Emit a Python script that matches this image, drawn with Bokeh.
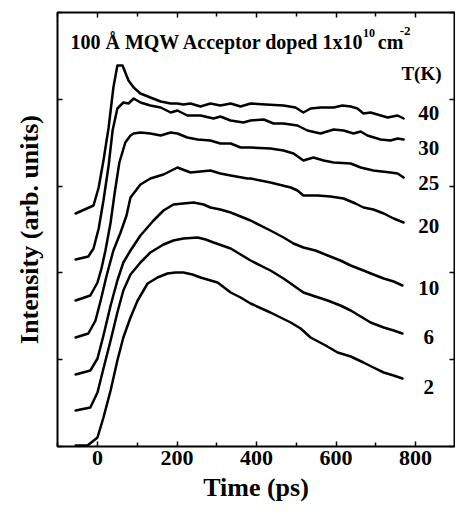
from bokeh.plotting import figure
from bokeh.models import FixedTicker, LinearAxis, Range1d, ColumnDataSource
from bokeh.core.properties import value
from bokeh.embed import file_html
from bokeh.resources import INLINE

FONT = "Liberation Serif"

# Time axis (ps)
x_ticks = [0, 200, 400, 600, 800]
x_minor = [-100, 100, 300, 500, 700]
# intensity axis (arb. units), unlabeled ticks
y_ticks = [0, 86.8, 173.6, 260.4, 347.2, 434]

# ---- curves: time (ps) and intensity (arb. units) ----
t_40 = [-55, -10, 3, 15, 28, 40, 50, 63, 78, 91, 108, 133, 159, 184, 201, 216, 234, 259, 284, 309,
        335, 360, 385, 423, 468, 498, 518, 536, 561, 594, 616, 637, 654, 669, 687, 704, 730, 755, 770]
i_40 = [233, 241, 259, 286, 319, 359, 381, 381, 366, 359, 353, 349, 345, 343, 343, 342, 343, 340, 343, 341,
        343, 340, 343, 342, 341, 339, 334, 338, 339, 339, 341, 340, 338, 333, 334, 332, 329, 331, 328]

t_30 = [-55, -23, -10, 3, 15, 28, 38, 50, 65, 78, 91, 108, 133, 159, 184, 201, 226, 259, 292, 309,
        335, 367, 385, 418, 443, 468, 503, 528, 561, 594, 619, 644, 662, 679, 712, 737, 755, 770]
i_30 = [187, 190, 198, 218, 246, 281, 316, 338, 344, 343, 348, 344, 341, 339, 334, 336, 331, 331, 328, 330,
        326, 324, 326, 327, 323, 323, 321, 316, 313, 317, 316, 313, 315, 311, 307, 306, 308, 307]

t_25 = [-55, -18, 0, 10, 20, 33, 43, 55, 70, 83, 91, 108, 133, 159, 184, 201, 226, 252, 284, 309,
        335, 360, 385, 435, 468, 493, 518, 543, 569, 594, 637, 662, 694, 737, 755, 770]
i_25 = [146, 151, 164, 178, 196, 224, 253, 284, 304, 311, 313, 314, 313, 311, 314, 313, 309, 307, 306, 303,
        303, 299, 299, 298, 296, 293, 286, 289, 286, 284, 283, 279, 276, 274, 273, 269]

t_20 = [-55, -23, -5, 8, 23, 40, 58, 73, 83, 108, 133, 166, 201, 234, 259, 284, 309, 335, 377, 385,
        435, 486, 503, 518, 554, 586, 619, 649, 669, 694, 720, 745, 770]
i_20 = [109, 113, 126, 146, 171, 196, 214, 231, 249, 262, 268, 272, 279, 274, 275, 276, 273, 271, 268, 268,
        264, 259, 256, 251, 251, 250, 248, 243, 239, 237, 233, 228, 224]

t_10 = [-55, -18, 0, 15, 33, 50, 65, 83, 108, 141, 166, 191, 216, 242, 267, 284, 309, 335, 360, 385,
        435, 468, 493, 518, 548, 579, 611, 637, 669, 694, 720, 745, 767]
i_10 = [72, 76, 88, 111, 141, 166, 184, 196, 211, 226, 236, 242, 243, 244, 242, 239, 237, 234, 230, 226,
        216, 209, 203, 199, 196, 191, 186, 181, 176, 172, 168, 165, 161]

t_6 = [-55, -18, 0, 15, 33, 50, 65, 83, 108, 133, 166, 191, 216, 252, 272, 292, 335, 360, 385, 435,
       468, 493, 518, 548, 579, 611, 637, 662, 687, 720, 745, 767]
i_6 = [36, 39, 54, 78, 106, 134, 156, 172, 184, 194, 202, 206, 208, 209, 207, 204, 198, 192, 186, 176,
       168, 161, 154, 150, 146, 141, 136, 130, 124, 119, 116, 113]

t_2 = [-55, -25, 0, 15, 33, 50, 65, 83, 101, 126, 151, 176, 196, 216, 239, 259, 302, 335, 360, 385,
       435, 486, 511, 536, 574, 604, 637, 669, 694, 720, 745, 767]
i_2 = [1, 1, 9, 29, 56, 86, 109, 129, 146, 163, 169, 173, 174, 174, 172, 169, 164, 154, 149, 143,
       134, 124, 118, 109, 101, 94, 90, 84, 79, 74, 71, 68]

# temperature labels
temps = ["40", "30", "25", "20", "10", "6", "2"]
temp_label_t = [833] * 7
temp_label_i = [334, 299, 264, 221, 159, 110, 60]
header_text = ["T(K)"]
header_t = [815]
header_i = [373]

# title pieces
title_text = ["100 \u00c5 MQW Acceptor doped 1x10", "10", "cm", "-2"]
title_t = [-68, 668, 705, 760]
title_i = [405, 414, 405, 416]
title_size = ["20px", "12px", "20px", "13px"]

p = figure(width=455, height=513, x_range=Range1d(-100.6, 898), y_range=Range1d(0, 434),
           output_backend="svg", toolbar_location=None,
           min_border_left=57, min_border_right=1, min_border_top=12, min_border_bottom=67)
p.xgrid.visible = False
p.ygrid.visible = False
p.outline_line_color = "black"
p.outline_line_width = 2
p.background_fill_color = "white"
p.border_fill_color = "white"


def style_axis(ax, labels=True):
    ax.major_tick_in = 5
    ax.major_tick_out = 0
    ax.minor_tick_in = 4
    ax.minor_tick_out = 0
    ax.major_tick_line_width = 1.5
    ax.minor_tick_line_width = 1.5
    ax.major_tick_line_color = "black"
    ax.minor_tick_line_color = "black"
    ax.axis_line_color = None
    ax.major_label_text_font = FONT
    ax.major_label_text_font_style = "bold"
    if labels:
        ax.major_label_text_font_size = "22px"
        ax.major_label_text_color = "black"
    else:
        ax.major_label_text_font_size = "1px"
        ax.major_label_text_color = None
        ax.major_label_standoff = 0


xa = p.xaxis[0]
xa.ticker = FixedTicker(ticks=x_ticks, minor_ticks=x_minor)
style_axis(xa, True)
xa.major_label_standoff = 4
xa.axis_label = "Time (ps)"
xa.axis_label_text_font = FONT
xa.axis_label_text_font_style = "bold"
xa.axis_label_text_font_size = "26px"
xa.axis_label_text_color = "black"
xa.axis_label_standoff = 5

ya = p.yaxis[0]
ya.ticker = FixedTicker(ticks=y_ticks, minor_ticks=[])
style_axis(ya, False)
ya.axis_label = "Intensity (arb. units)"
ya.axis_label_text_font = FONT
ya.axis_label_text_font_style = "bold"
ya.axis_label_text_font_size = "26px"
ya.axis_label_text_color = "black"
ya.axis_label_standoff = 14

top = LinearAxis(ticker=FixedTicker(ticks=x_ticks, minor_ticks=x_minor))
style_axis(top, False)
p.add_layout(top, "above")
right = LinearAxis(ticker=FixedTicker(ticks=y_ticks, minor_ticks=[]))
style_axis(right, False)
p.add_layout(right, "right")

for t, i in [(t_40, i_40), (t_30, i_30), (t_25, i_25), (t_20, i_20), (t_10, i_10), (t_6, i_6), (t_2, i_2)]:
    p.line(t, i, line_width=2.5, line_color="black", line_join="round", line_cap="round")

p.text(x=temp_label_t, y=temp_label_i, text=temps, text_font=value(FONT), text_font_style="bold",
       text_font_size="21px", text_align="center", text_baseline="middle", text_color="black")
p.text(x=header_t, y=header_i, text=header_text, text_font=value(FONT), text_font_style="bold",
       text_font_size="19px", text_align="center", text_baseline="middle", text_color="black")

tsrc = ColumnDataSource(dict(x=title_t, y=title_i, text=title_text, size=title_size))
p.text(x="x", y="y", text="text", source=tsrc, text_font=value(FONT), text_font_style="bold",
       text_font_size="size", text_align="left", text_baseline="alphabetic", text_color="black")

open("out.html", "w").write(file_html(p, INLINE))
